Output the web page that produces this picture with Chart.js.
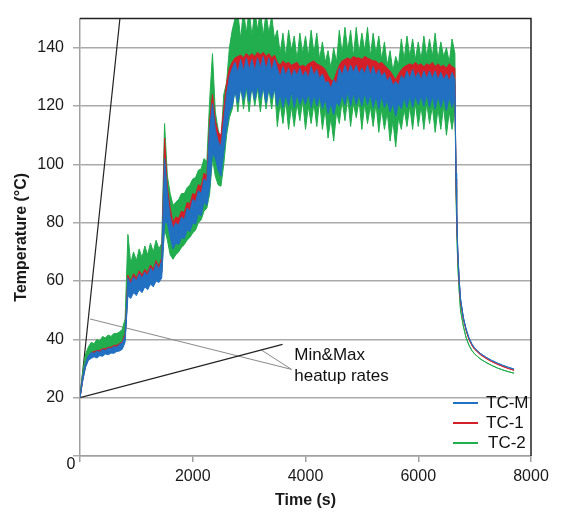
<!DOCTYPE html>
<html>
<head>
<meta charset="utf-8">
<script src="https://cdn.jsdelivr.net/npm/chart.js@4.4.0/dist/chart.umd.min.js"></script>
<style>
  body { margin: 0; background: #fff; }
  #contenedor { width: 561px; height: 518px; }
</style>
</head>
<body>
<div id="contenedor"><canvas id="grafica"></canvas></div>
<script>
// Tiempos de muestreo (s)
const tiempos = [
  0, 50, 100, 150, 200, 250, 300, 350, 400, 450, 500, 550, 600, 650, 700, 750, 800,
  850, 900, 950, 1000, 1050, 1100, 1150, 1200, 1250, 1300, 1350, 1400, 1450,
  1500, 1550, 1600, 1650, 1700, 1750, 1800, 1850, 1900, 1950, 2000, 2050, 2100, 2150, 2200, 2250,
  2300, 2350, 2400, 2450, 2500, 2550,
  2600, 2650, 2700, 2750, 2800, 2850, 2900, 2950, 3000, 3050, 3100, 3150, 3200, 3250, 3300, 3350, 3400, 3450,
  3500, 3550, 3600, 3650, 3700, 3750, 3800, 3850, 3900, 3950,
  4000, 4050, 4100, 4150, 4200, 4250, 4300, 4350, 4400, 4450,
  4500, 4550, 4600, 4650, 4700, 4750, 4800, 4850, 4900, 4950,
  5000, 5050, 5100, 5150, 5200, 5250, 5300, 5350, 5400, 5450,
  5500, 5550, 5600, 5650, 5700, 5750, 5800, 5850, 5900, 5950,
  6000, 6050, 6100, 6150, 6200, 6250, 6300, 6350, 6400, 6450,
  6500, 6550, 6600, 6650,
  6660, 6670, 6680, 6700, 6725, 6750, 6800, 6850, 6900, 6950, 7000, 7100, 7200, 7300, 7400, 7500, 7600, 7700
];

// Temperaturas (°C): máximo y mínimo de la oscilación de cada termopar
const tcMAlto = [
  20, 27.5, 32, 34.5, 35.5, 35.2, 36, 35.6, 36.5, 36.2, 37, 36.8, 37.5, 37.4, 38.2, 38.8, 41,
  61, 59, 61.5, 60, 62.5, 61, 63, 62, 64.5, 63, 66, 64, 67,
  102, 90, 82, 78, 80, 79, 82, 81, 85, 84, 88, 87, 91, 90, 95, 94,
  112, 121, 112, 108, 106, 115,
  124, 130, 133, 135, 131.5, 136, 132, 136.5, 132.5, 136, 132, 136.5, 133, 137, 132.5, 136.5, 132, 136,
  133, 130, 133.5, 130.5, 133, 130, 132.5, 130.5, 133, 130,
  132, 129.5, 133.5, 130.5, 132.5, 129.5, 131, 128, 128.5, 126,
  129, 127.5, 133, 130.5, 134, 131, 134, 131.5, 134, 131,
  133, 131, 134, 130.5, 133.5, 130.5, 132.5, 130, 131.5, 128.5,
  130, 127, 128.5, 127, 130.5, 129, 132, 129.5, 132.5, 129.5,
  131.5, 129, 132, 129.5, 132, 129.5, 132, 129, 131.5, 129,
  131, 128.5, 131.5, 129,
  112, 97, 86, 71, 61, 54, 47.5, 43.5, 40.5, 38.5, 37, 35.2, 33.9, 32.8, 31.9, 31.1, 30.4, 29.8
];
const tcMBajo = [
  20, 26, 30.5, 32.8, 33.5, 34, 33.6, 34.4, 34.2, 35, 34.7, 35.3, 35.2, 35.8, 36, 36.6, 39,
  55, 54, 56, 55, 57, 56, 58, 57, 59, 58, 60, 59.5, 61,
  80, 80, 75, 71, 73, 72.5, 75, 74.5, 77.5, 77, 80, 79.5, 83, 82.5, 87, 86,
  92, 104, 102, 98, 96, 104,
  112, 118, 120, 125, 121, 126, 122, 127, 121.5, 126.5, 122, 127, 122.5, 126.5, 121, 126, 122.5, 126,
  120, 124, 119.5, 124, 120, 125, 119.5, 124, 120.5, 123.5,
  120.5, 124.5, 119.5, 124, 120, 123.5, 119, 122.5, 117.5, 121,
  117, 121.5, 120, 124, 120.5, 125, 120, 124.5, 120.5, 124,
  120, 124.5, 120.5, 124, 119.5, 123.5, 119, 123.5, 119.5, 122,
  118, 121, 116.5, 121, 119, 123, 119.5, 123.5, 119.5, 123.5,
  120.5, 123.5, 120, 124, 119.5, 123.5, 119, 123.5, 119.5, 123,
  118.5, 123, 119.5, 123,
  112, 97, 86, 71, 61, 54, 47.5, 43.5, 40.5, 38.5, 37, 35.2, 33.9, 32.8, 31.9, 31.1, 30.4, 29.8
];
const tc1Alto = [
  20, 27, 31.8, 34.3, 35.5, 35.8, 36.2, 36.2, 36.8, 36.8, 37.3, 37.3, 37.9, 38, 38.5, 39.2, 42,
  62, 60, 62.5, 61, 63.5, 62, 64, 63, 65.5, 64, 67, 65, 68,
  109, 92, 85, 80, 82, 81.5, 84, 83.5, 87, 86.5, 90, 89.5, 93, 92.5, 97, 96,
  115, 124, 115, 111, 110, 119,
  128, 133, 135, 136.5, 137, 137.5, 136.5, 138, 137, 138, 137, 138.5, 137.5, 138.5, 137, 138, 136.5, 137.5,
  135, 134, 135.5, 134.5, 135, 134, 134.5, 135, 133.5, 134,
  133.5, 134.5, 135, 135.5, 134.5, 134, 133.5, 132.5, 130.5, 129,
  128.5, 131.5, 134, 135.5, 136, 136.5, 136, 137, 136.5, 136.5,
  136, 137, 136.5, 136, 135.5, 135.5, 134.5, 135, 134, 133,
  132, 130.5, 129, 131, 132.5, 133.5, 134, 134.5, 134, 135,
  134, 134.5, 133.5, 134.5, 134, 135, 133.5, 134.5, 133.5, 134,
  133, 134.5, 133.5, 133,
  111, 95, 84, 70, 60, 53, 47, 43, 40, 38, 36.6, 34.8, 33.5, 32.4, 31.5, 30.7, 30, 29.4
];
const tc1Bajo = [
  20, 26, 30.8, 33.2, 34, 34.6, 34.3, 35, 34.9, 35.6, 35.4, 36, 35.9, 36.5, 36.6, 37.3, 40,
  57, 56, 58, 57, 59, 58, 60, 59, 61, 60, 62, 61.5, 63,
  88, 84, 79, 75, 77, 76.5, 79, 78.5, 82, 81.5, 84, 84, 87, 87, 91, 90,
  100, 110, 107, 104, 102, 110,
  118, 124, 127, 130, 130, 131, 130.5, 131.5, 130.5, 131.5, 131, 132, 131, 132, 130.5, 131.5, 130.5, 131,
  129, 128.5, 129.5, 129, 129.5, 128.5, 129, 129.5, 128, 128.5,
  128, 129, 129.5, 130, 129, 128.5, 128, 127, 125, 124,
  123.5, 126, 128.5, 130, 130.5, 131, 130.5, 131.5, 131, 131,
  130.5, 131.5, 131, 130.5, 130, 130, 129, 129.5, 128.5, 127.5,
  126.5, 125, 124, 125.5, 127, 128, 128.5, 129, 128.5, 129.5,
  128.5, 129, 128, 129, 128.5, 129.5, 128, 129, 128, 128.5,
  127.5, 129, 128, 127.5,
  111, 95, 84, 70, 60, 53, 47, 43, 40, 38, 36.6, 34.8, 33.5, 32.4, 31.5, 30.7, 30, 29.4
];
const tc2Alto = [
  20, 29, 35, 37.5, 39, 38.5, 40, 39.5, 41, 40.5, 41.5, 41, 42, 42, 42.5, 43.5, 47,
  76, 66, 70, 67, 71, 68, 72, 69, 73, 70, 74, 71, 73,
  114, 96, 90, 86, 87, 88, 90, 90, 92, 93, 95, 95.5, 98, 98.5, 102, 101,
  122, 138, 118, 112, 108, 124,
  128, 140, 146, 150, 152, 143, 153, 145, 153, 144, 153, 146, 153, 144, 152, 145, 151, 143,
  146, 138, 145, 137, 146, 139, 144, 136, 145, 138,
  144, 137, 146, 138, 145, 136, 142, 135, 139, 133,
  140, 135, 146, 138, 147, 139, 146, 137, 147, 138,
  145, 139, 147, 137, 145, 138, 144, 136, 142, 134,
  139, 132, 137, 134, 143, 136, 144, 137, 143, 136,
  142, 136, 144, 137, 143, 137, 145, 136, 142, 137,
  140, 135, 143, 138,
  108, 92, 80, 66, 57, 50, 44.5, 40.5, 38, 36.2, 35, 33.3, 32.1, 31.1, 30.2, 29.5, 28.9, 28.4
];
const tc2Bajo = [
  20, 26.5, 31.5, 34, 34.5, 35, 35, 35.5, 35.8, 36, 36, 36.5, 36.5, 37, 37.2, 37.8, 40,
  56, 57, 58, 58.5, 59, 59.5, 60, 60.5, 61, 61.5, 62, 62.5, 63,
  78, 74, 69, 67.5, 69, 70, 71.5, 72.5, 74, 75, 76.5, 77.5, 80, 81, 84, 85,
  90, 102, 96, 93, 92.5, 100,
  110, 116, 119, 126, 118, 127, 119, 126, 118, 127, 120, 126, 118, 127, 119, 126, 119, 127,
  113, 121, 114, 122, 112, 120, 113, 121, 115, 122,
  112, 120, 114, 121, 113, 122, 112, 119, 109, 116,
  108, 118, 114, 122, 115, 123, 113, 121, 116, 122,
  112, 121, 114, 120, 113, 121, 111, 119, 112, 118,
  108, 115, 106, 116, 112, 119, 113, 120, 112, 121,
  113, 120, 112, 121, 114, 120, 111, 119, 112, 120,
  110, 118, 112, 119,
  108, 92, 80, 66, 57, 50, 44.5, 40.5, 38, 36.2, 35, 33.3, 32.1, 31.1, 30.2, 29.5, 28.9, 28.4
];

const nombres = ["TC-M", "TC-1", "TC-2"];
const colores = ["#2170c2", "#d21f28", "#22ad4e"];
const ticksX = [0, 2000, 4000, 6000, 8000];
const ticksY = [0, 20, 40, 60, 80, 100, 120, 140];

// Rectas de velocidad de calentamiento y líneas guía de la nota
const rectaMax = [[0, 20], [800, 166.9]];
const rectaMin = [[0, 20], [3593, 38.3]];
const guia1 = [[177, 47], [3752, 29.7]];
const guia2 = [[3221, 36.3], [3752, 29.7]];
const nota = ["Min&Max", "heatup rates"];
const notaPos = [3800, 34.7, 27.2];

const fuente = 'Arial, "Liberation Sans", sans-serif';
Chart.defaults.font.family = fuente;
Chart.defaults.color = "#1a1a1a";

function puntos(valores) {
    return tiempos.map(function (t, i) { return { x: t, y: valores[i] }; });
}

// Cada termopar es una banda rellena entre su mínimo y su máximo
function banda(nombre, alto, bajo, color) {
    return [
        { label: nombre, data: puntos(bajo), borderColor: color, borderWidth: 1, pointRadius: 0, fill: false },
        { label: nombre, data: puntos(alto), borderColor: color, borderWidth: 1, pointRadius: 0, fill: "-1", backgroundColor: color }
    ];
}

function recta(pts, color, grosor) {
    return {
        label: "",
        data: pts.map(function (p) { return { x: p[0], y: p[1] }; }),
        borderColor: color,
        borderWidth: grosor,
        pointRadius: 0,
        fill: false
    };
}

// Leyenda, bordes y textos dibujados a mano
const extras = {
    id: "extras",
    afterDatasetsDraw(chart) {
        const ctx = chart.ctx;
        const a = chart.chartArea;
        const x = chart.scales.x;
        const y = chart.scales.y;
        ctx.save();
        // borde superior y derecho
        ctx.strokeStyle = "#222";
        ctx.lineWidth = 1.5;
        ctx.beginPath();
        ctx.moveTo(a.left, a.top);
        ctx.lineTo(a.right, a.top);
        ctx.lineTo(a.right, a.bottom);
        ctx.stroke();
        // nota de las rectas
        ctx.fillStyle = "#111";
        ctx.font = "17px " + fuente;
        ctx.textAlign = "left";
        ctx.textBaseline = "middle";
        ctx.fillText(nota[0], x.getPixelForValue(notaPos[0]), y.getPixelForValue(notaPos[1]));
        ctx.fillText(nota[1], x.getPixelForValue(notaPos[0]), y.getPixelForValue(notaPos[2]));
        // leyenda
        nombres.forEach(function (n, i) {
            const ly = a.bottom - 53 + i * 20;
            ctx.strokeStyle = colores[i];
            ctx.lineWidth = 2;
            ctx.beginPath();
            ctx.moveTo(a.right - 78, ly);
            ctx.lineTo(a.right - 53, ly);
            ctx.stroke();
            ctx.fillText(n, a.right - 45 + (i == 2 ? 2 : 0), ly);
        });
        // "0" del eje
        ctx.font = "16px " + fuente;
        ctx.textAlign = "center";
        ctx.fillText("0", a.left - 9, a.bottom + 9);
        ctx.restore();
    }
};

function crearGrafica() {
    const conjuntos = []
        .concat(banda(nombres[0], tcMAlto, tcMBajo, colores[0]))
        .concat(banda(nombres[1], tc1Alto, tc1Bajo, colores[1]))
        .concat(banda(nombres[2], tc2Alto, tc2Bajo, colores[2]))
        .concat([
            recta(rectaMax, "#222", 1.2),
            recta(rectaMin, "#222", 1.2),
            recta(guia1, "#888", 1),
            recta(guia2, "#888", 1)
        ]);

    new Chart(document.getElementById("grafica"), {
        type: "line",
        data: { datasets: conjuntos },
        options: {
            responsive: true,
            maintainAspectRatio: false,
            animation: false,
            layout: { padding: { left: 12, right: 30, top: 6, bottom: 8 } },
            plugins: { legend: { display: false }, tooltip: { enabled: false } },
            scales: {
                x: {
                    type: "linear",
                    min: 0,
                    max: 8000,
                    afterBuildTicks: function (s) { s.ticks = ticksX.map(function (v) { return { value: v }; }); },
                    afterFit: function (s) { s.height = 54; },
                    ticks: {
                        font: { size: 16 },
                        padding: 5,
                        maxRotation: 0,
                        autoSkip: false,
                        callback: function (v) { return v === 0 ? "" : String(v); }
                    },
                    grid: { drawOnChartArea: false, tickLength: 6, color: "#a0a0a0", lineWidth: 1.5 },
                    border: { color: "#a0a0a0", width: 1.5 },
                    title: { display: true, text: "Time (s)", font: { size: 16, weight: "bold" }, padding: 0 }
                },
                y: {
                    min: 0,
                    max: 150,
                    afterBuildTicks: function (s) { s.ticks = ticksY.map(function (v) { return { value: v }; }); },
                    afterFit: function (s) { s.width = 68; },
                    ticks: {
                        font: { size: 16 },
                        padding: 9,
                        callback: function (v) { return v === 0 ? "" : String(v); }
                    },
                    grid: { color: "#aaaaaa", lineWidth: 1.5, tickLength: 7 },
                    border: { color: "#a0a0a0", width: 1.5 },
                    title: { display: true, text: "Temperature (°C)", font: { size: 16, weight: "bold" }, padding: 0 }
                }
            }
        },
        plugins: [extras]
    });
}

window.addEventListener("load", function () {
    crearGrafica();
});
</script>
</body>
</html>
